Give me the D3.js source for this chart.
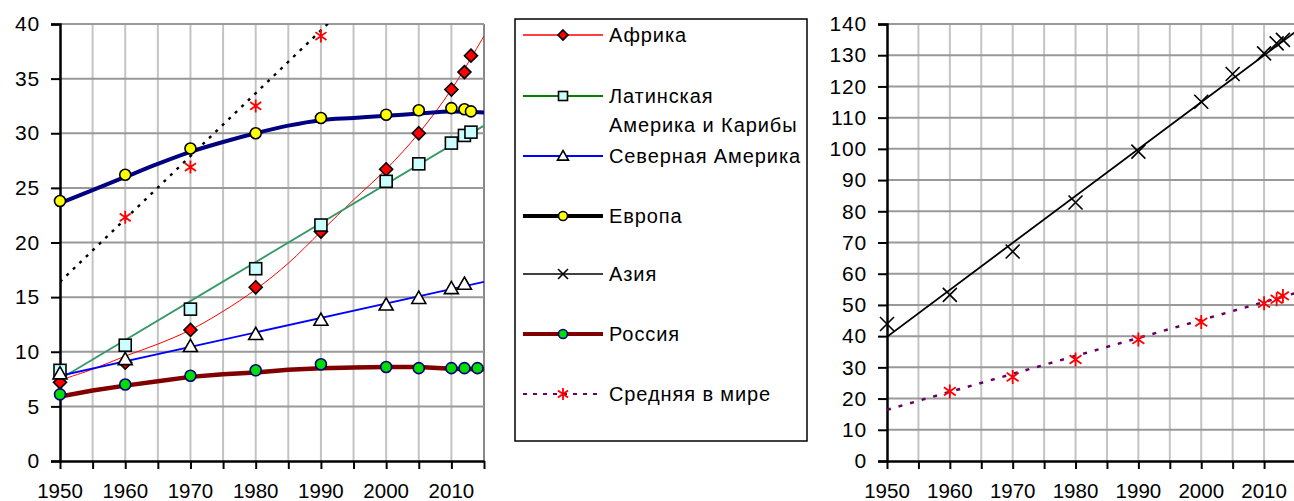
<!DOCTYPE html>
<html>
<head>
<meta charset="utf-8">
<script src="https://cdn.jsdelivr.net/npm/d3@7"></script>
<style>
  body { margin: 0; background: #fff; }
  svg text { font-family: "Liberation Sans", Arial, sans-serif; fill: #000; }
</style>
</head>
<body>
<script>
'use strict';

// point data (years of observations)
const years = [1950, 1960, 1970, 1980, 1990, 2000, 2005, 2010, 2012, 2013];
const russiaYears = [1950, 1960, 1970, 1980, 1990, 2000, 2005, 2010, 2012, 2014];
const africa = [7.2, 9.0, 12.0, 15.9, 21.0, 26.7, 30.0, 34.0, 35.6, 37.1];
const latin = [8.3, 10.6, 13.9, 17.6, 21.6, 25.6, 27.2, 29.1, 29.8, 30.1];
const northAm = [8.0, 9.3, 10.5, 11.6, 12.9, 14.3, 14.9, 15.8, 16.2, null];
const europe = [23.8, 26.2, 28.6, 30.0, 31.4, 31.7, 32.1, 32.3, 32.2, 32.0];
const russia = [6.1, 7.0, 7.8, 8.3, 8.85, 8.6, 8.5, 8.5, 8.5, 8.5];
const asia = [43.9, 53.2, 67.1, 82.8, 99.1, 115.1, 124.0, 130.6, 133.8, 134.9];
const world = [null, 22.3, 26.9, 32.5, 38.9, 44.5, null, 50.5, 51.8, 52.9];

// straight trend lines (read at the plot edges)
const trendYears = [1950, 2015];
const latinTrend = [7.5, 30.7];
const northAmTrend = [7.8, 16.4];
const asiaTrend = [39.8, 137.5];
const worldTrend = [16.4, 53.8];

// curved lines, read every 5 years
const curveYears = [1950, 1955, 1960, 1965, 1970, 1975, 1980, 1985, 1990, 1995, 2000, 2005, 2010, 2015];
const africaCurve = [7.4, 8.4, 9.6, 10.7, 12.0, 13.7, 15.7, 18.1, 21.0, 23.9, 26.7, 30.0, 34.0, 38.9];
const europeCurve = [23.6, 24.8, 26.0, 27.2, 28.3, 29.2, 30.0, 30.7, 31.2, 31.4, 31.6, 31.8, 32.0, 31.9];
const russiaCurve = [5.9, 6.45, 6.9, 7.3, 7.7, 7.95, 8.1, 8.35, 8.5, 8.55, 8.6, 8.6, 8.45, 8.4];

// axis ticks
const leftTicks = [0, 5, 10, 15, 20, 25, 30, 35, 40];
const rightTicks = [0, 10, 20, 30, 40, 50, 60, 70, 80, 90, 100, 110, 120, 130, 140];
const yearLabels = [1950, 1960, 1970, 1980, 1990, 2000, 2010];

const legendNames = ['Африка', ['Латинская', 'Америка и Карибы'], 'Северная Америка',
  'Европа', 'Азия', 'Россия', 'Средняя в мире'];

let svg = null;

window.onload = function() {
  svg = d3.select('body').append('svg')
    .attr('width', 1294)
    .attr('height', 501);

  // left chart
  let left = makeFrame({
    x0: 60, x1: 484, yTop: 24, yBot: 461,
    yMax: 40, ticks: leftTicks, id: 'clipL'
  });
  drawLine(left, curveYears, africaCurve, '#ff0000', 1, null, d3.curveCatmullRom);
  drawLine(left, trendYears, latinTrend, '#339966', 1.8);
  drawLine(left, trendYears, northAmTrend, '#0000ff', 1.8);
  drawLine(left, curveYears, europeCurve, '#000080', 4, null, d3.curveMonotoneX);
  drawLine(left, curveYears, russiaCurve, '#800000', 4.5);
  drawLine(left, trendYears, worldTrend, '#000000', 2.4, '3,6');

  drawPoints(left, years, africa, 'diamond', 6.5);
  drawPoints(left, years, latin, 'square', 6);
  drawPoints(left, years, northAm, 'triangle', 7);
  drawPoints(left, years, europe, 'circle', 5.5);
  drawPoints(left, russiaYears, russia, 'circleRu', 5.5);
  drawPoints(left, years, world, 'star', 6.5);

  // right chart
  let right = makeFrame({
    x0: 887, x1: 1295.5, yTop: 24, yBot: 461,
    yMax: 140, ticks: rightTicks, id: 'clipR'
  });
  drawLine(right, trendYears, asiaTrend, '#000000', 1.8);
  drawLine(right, trendYears, worldTrend, '#660066', 2.5, '4,8');
  drawPoints(right, years, asia, 'cross', 7);
  drawPoints(right, years, world, 'star', 7);

  makeLegend();
};

// frame, grid, axes and tick labels of one chart
function makeFrame(o) {
  let x = d3.scaleLinear().domain([1950, 2015]).range([o.x0, o.x1]);
  let y = d3.scaleLinear().domain([0, o.yMax]).range([o.yBot, o.yTop]);
  let g = svg.append('g');

  svg.append('clipPath').attr('id', o.id)
    .append('rect')
    .attr('x', o.x0).attr('y', o.yTop)
    .attr('width', o.x1 - o.x0).attr('height', o.yBot - o.yTop);

  let gridYears = d3.range(1955, 2016, 5);
  g.selectAll('.vgrid').data(gridYears).enter().append('line')
    .attr('x1', d => x(d)).attr('x2', d => x(d))
    .attr('y1', o.yTop).attr('y2', o.yBot)
    .attr('stroke', d => d === 2015 ? '#888' : '#c4c4c4')
    .attr('stroke-width', 2);

  g.selectAll('.hgrid').data(o.ticks.slice(1)).enter().append('line')
    .attr('x1', o.x0).attr('x2', o.x1)
    .attr('y1', d => y(d)).attr('y2', d => y(d))
    .attr('stroke', '#999')
    .attr('stroke-width', 2);

  // y axis
  let yAxis = d3.axisLeft(y).tickValues(o.ticks).tickSize(9).tickPadding(11).tickFormat(d3.format('d'));
  let ya = g.append('g').attr('transform', 'translate(' + o.x0 + ',0)').call(yAxis);
  ya.select('.domain').attr('stroke-width', 2.5);
  ya.selectAll('.tick line').attr('stroke-width', 2);
  ya.selectAll('text')
    .style('font-size', '21px')
    .style('letter-spacing', '0.8px')
    .attr('fill', '#000');

  // x axis
  let xAxis = d3.axisBottom(x).tickValues(d3.range(1950, 2016, 5)).tickSize(8).tickSizeOuter(0).tickFormat('');
  let xa = g.append('g').attr('transform', 'translate(0,' + o.yBot + ')').call(xAxis);
  xa.select('.domain').attr('stroke-width', 2.5);
  xa.selectAll('.tick line').attr('stroke-width', 2);

  g.selectAll('.xlab').data(yearLabels).enter().append('text')
    .attr('x', d => x(d))
    .attr('y', 498)
    .attr('text-anchor', 'middle')
    .style('font-size', '20.5px')
    .text(d => d);

  let plot = svg.append('g').attr('clip-path', 'url(#' + o.id + ')');
  let marks = svg.append('g');
  return { x: x, y: y, plot: plot, marks: marks };
}

function drawLine(c, xs, vals, color, width, dash, curve) {
  let pts = xs.map((d, i) => [d, vals[i]]);
  let line = d3.line()
    .x(d => c.x(d[0]))
    .y(d => c.y(d[1]))
    .curve(curve || d3.curveLinear);
  c.plot.append('path')
    .attr('d', line(pts))
    .attr('fill', 'none')
    .attr('stroke', color)
    .attr('stroke-width', width)
    .attr('stroke-dasharray', dash || null)
    .attr('stroke-linejoin', 'round');
}

function drawPoints(c, xs, vals, type, s) {
  xs.forEach((d, i) => {
    let v = vals[i];
    if (v === null || v > c.y.domain()[1]) return;
    drawMarker(c.marks, type, c.x(d), c.y(v), s);
  });
}

function drawMarker(g, type, x, y, s) {
  if (type === 'diamond') {
    g.append('polygon')
      .attr('points', [[x, y - s], [x + s, y], [x, y + s], [x - s, y]].join(' '))
      .attr('fill', '#ff0000').attr('stroke', '#000').attr('stroke-width', 1.6);
  } else if (type === 'square') {
    g.append('rect')
      .attr('x', x - s).attr('y', y - s).attr('width', 2 * s).attr('height', 2 * s)
      .attr('fill', '#ccffff').attr('stroke', '#000').attr('stroke-width', 1.6);
  } else if (type === 'triangle') {
    g.append('polygon')
      .attr('points', [[x, y - s], [x + s, y + s * 0.75], [x - s, y + s * 0.75]].join(' '))
      .attr('fill', '#fff').attr('stroke', '#000').attr('stroke-width', 1.6);
  } else if (type === 'circle' || type === 'circleRu') {
    g.append('circle')
      .attr('cx', x).attr('cy', y).attr('r', s)
      .attr('fill', type === 'circle' ? '#ffff00' : '#00dd00')
      .attr('stroke', type === 'circle' ? '#000' : '#000080')
      .attr('stroke-width', 1.6);
  } else if (type === 'cross') {
    g.append('path')
      .attr('d', 'M' + (x - s) + ',' + (y - s) + 'L' + (x + s) + ',' + (y + s) +
        'M' + (x - s) + ',' + (y + s) + 'L' + (x + s) + ',' + (y - s))
      .attr('stroke', '#000').attr('stroke-width', 1.6);
  } else if (type === 'star') {
    g.append('path')
      .attr('d', 'M' + (x - s * 0.85) + ',' + (y - s * 0.6) + 'L' + (x + s * 0.85) + ',' + (y + s * 0.6) +
        'M' + (x - s * 0.85) + ',' + (y + s * 0.6) + 'L' + (x + s * 0.85) + ',' + (y - s * 0.6) +
        'M' + x + ',' + (y - s) + 'L' + x + ',' + (y + s))
      .attr('stroke', '#ff0000').attr('stroke-width', 1.8);
  }
}

// legend box in the middle
function makeLegend() {
  let g = svg.append('g');
  g.append('rect')
    .attr('x', 515).attr('y', 19)
    .attr('width', 292).attr('height', 422)
    .attr('fill', '#fff').attr('stroke', '#000').attr('stroke-width', 1.5);

  let rows = [
    { y: 35, color: '#ff0000', w: 1.5, marker: 'diamond', s: 5 },
    { y: 96, color: '#008000', w: 1.8, marker: 'square', s: 4.5 },
    { y: 156, color: '#0000ff', w: 1.8, marker: 'triangle', s: 5.5 },
    { y: 216, color: '#000000', w: 4, marker: 'circle', s: 4.5 },
    { y: 274, color: '#000000', w: 1.5, marker: 'cross', s: 5 },
    { y: 334, color: '#800000', w: 4, marker: 'circleRu', s: 4.5 },
    { y: 394, color: '#660066', w: 1.8, marker: 'star', s: 6, dash: '4,6' }
  ];

  rows.forEach((r, i) => {
    g.append('line')
      .attr('x1', 523).attr('x2', 603)
      .attr('y1', r.y).attr('y2', r.y)
      .attr('stroke', r.color).attr('stroke-width', r.w)
      .attr('stroke-dasharray', r.dash || null);
    drawMarker(g, r.marker, 563, r.y, r.s);
    let name = legendNames[i];
    let lines = Array.isArray(name) ? name : [name];
    lines.forEach((t, j) => {
      g.append('text')
        .attr('x', 609)
        .attr('y', r.y + 7 + j * 29)
        .style('font-size', '20px')
        .style('letter-spacing', '0.9px')
        .text(t);
    });
  });
}
</script>
</body>
</html>
